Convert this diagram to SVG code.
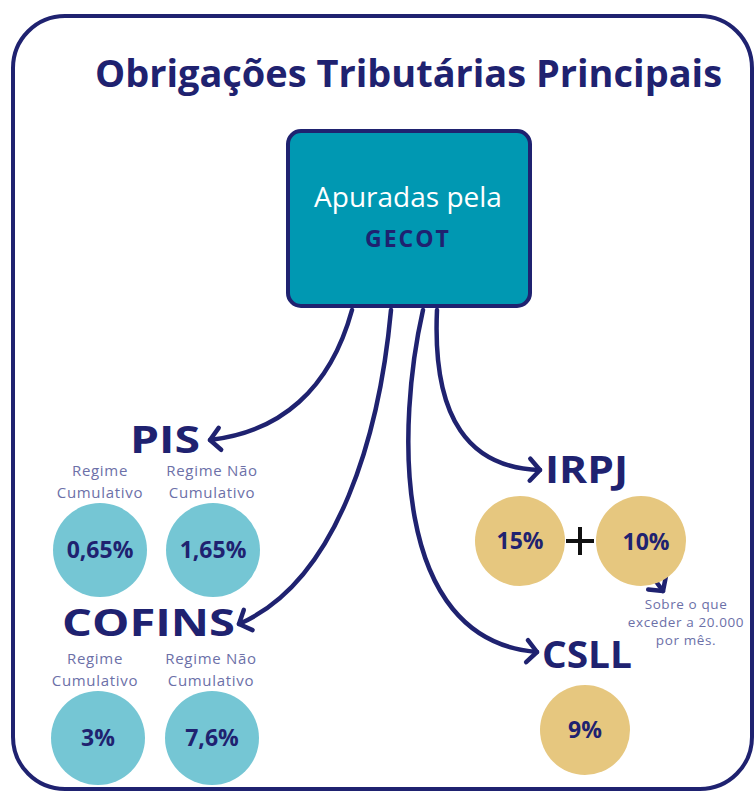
<svg xmlns="http://www.w3.org/2000/svg" width="754" height="792" viewBox="0 0 754 792">
<style>
.nv{fill:#1f2270}
.title{font-family:"Open Sans",sans-serif;font-weight:700;font-size:37px}
.hd{font-family:"Open Sans",sans-serif;font-weight:700;font-size:38px}
.lb{font-family:"Open Sans",sans-serif;font-size:15px;fill:#6c70a8;text-anchor:middle;letter-spacing:0.7px}
.pct{font-family:"Open Sans",sans-serif;font-weight:700;font-size:23px;fill:#1f2270;text-anchor:middle}
.note{font-family:"Open Sans",sans-serif;font-size:13.5px;fill:#6c70a8;text-anchor:middle;letter-spacing:0.6px}
.blue{fill:#75c6d4}
.gold{fill:#e6c77f}
.con{fill:none;stroke:#1f2270;stroke-width:4.5;stroke-linecap:round}
</style>
<defs>
<marker id="ah" markerUnits="userSpaceOnUse" markerWidth="32" markerHeight="32" refX="16" refY="16" orient="auto" viewBox="0 0 32 32">
<path d="M6,5 L16,16 L6,27" fill="none" stroke="#1f2270" stroke-width="4.5" stroke-linecap="round" stroke-linejoin="round"/>
</marker>
</defs>
<rect width="754" height="792" fill="#ffffff"/>
<rect id="frame" x="13" y="16" width="739" height="773" rx="52" fill="none" stroke="#1f2270" stroke-width="4"/>
<g id="title"><text class="title nv" x="95" y="87" textLength="627" lengthAdjust="spacingAndGlyphs">Obrigações Tributárias Principais</text></g>
<g id="main">
<rect x="288" y="131" width="242" height="175" rx="13" fill="#0098b2" stroke="#1f2270" stroke-width="4"/>
<text x="408" y="207" font-family="Open Sans, sans-serif" font-size="28" fill="#ffffff" text-anchor="middle">Apuradas pela</text>
<text x="408" y="247" font-family="Open Sans, sans-serif" font-size="23" font-weight="700" fill="#1f2270" text-anchor="middle" letter-spacing="2">GECOT</text>
</g>
<g id="connectors">
<path class="con" d="M352,310 C330,390 280,432 210,440" marker-end="url(#ah)"/>
<path class="con" d="M391,310 C380,430 340,580 239,624" marker-end="url(#ah)"/>
<path class="con" d="M437,310 C432,420 470,468 540,470" marker-end="url(#ah)"/>
<path class="con" d="M423,310 C398,420 388,640 537,652" marker-end="url(#ah)"/>
<path class="con" d="M649,572 L663,591" marker-end="url(#ah)"/>
</g>
<g id="pis">
<text class="hd nv" x="130" y="453" textLength="70" lengthAdjust="spacingAndGlyphs">PIS</text>
<text class="lb" x="100" y="476">Regime</text><text class="lb" x="100" y="498">Cumulativo</text>
<text class="lb" x="212" y="476">Regime Não</text><text class="lb" x="212" y="498">Cumulativo</text>
<circle class="blue" cx="100" cy="550" r="47"/><text class="pct" x="100" y="558">0,65%</text>
<circle class="blue" cx="213" cy="550" r="47"/><text class="pct" x="213" y="558">1,65%</text>
</g>
<g id="cofins">
<text class="hd nv" x="62" y="636" textLength="173" lengthAdjust="spacingAndGlyphs">COFINS</text>
<text class="lb" x="95" y="664">Regime</text><text class="lb" x="95" y="686">Cumulativo</text>
<text class="lb" x="211" y="664">Regime Não</text><text class="lb" x="211" y="686">Cumulativo</text>
<circle class="blue" cx="98" cy="738" r="47"/><text class="pct" x="98" y="746">3%</text>
<circle class="blue" cx="212" cy="738" r="47"/><text class="pct" x="212" y="746">7,6%</text>
</g>
<g id="irpj">
<text class="hd nv" x="545" y="483" textLength="83" lengthAdjust="spacingAndGlyphs">IRPJ</text>
<circle class="gold" cx="520" cy="541" r="45"/><text class="pct" x="520" y="549">15%</text>
<circle class="gold" cx="641" cy="541" r="45"/><text class="pct" x="646" y="550">10%</text>
<path d="M580,527 V555 M566,541 H594" stroke="#111111" stroke-width="4"/>
<text class="note" x="686" y="609">Sobre o que</text>
<text class="note" x="686" y="627">exceder a 20.000</text>
<text class="note" x="686" y="645">por mês.</text>
</g>
<g id="csll">
<text class="hd nv" x="542" y="668" textLength="90" lengthAdjust="spacingAndGlyphs">CSLL</text>
<circle class="gold" cx="585" cy="730" r="45"/><text class="pct" x="585" y="738">9%</text>
</g>
</svg>
